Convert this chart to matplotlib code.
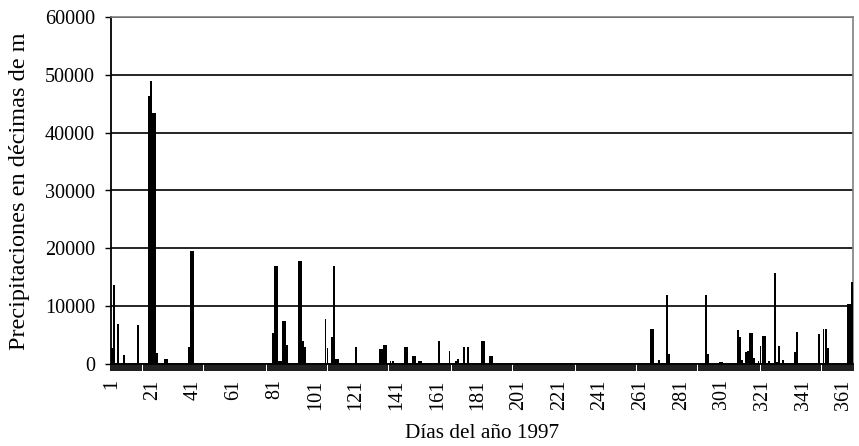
import numpy as np
import matplotlib
matplotlib.use("Agg")
import matplotlib.pyplot as plt
from matplotlib.ticker import FixedLocator

plt.rcParams['font.family'] = ['Liberation Serif', 'DejaVu Serif']

# Days with rain (day of year) and rain amount
rain_days = [1, 2, 4, 7, 14, 19, 20, 21, 22, 23, 27, 28, 39, 40, 41,
             80, 81, 82, 83, 84, 85, 86, 87, 93, 94, 95, 96,
             106, 107, 109, 110, 111, 112, 121, 133, 134, 135, 136, 138, 139,
             145, 146, 149, 150, 152, 153, 162, 167, 170, 171, 174, 176,
             183, 184, 187, 188,
             266, 267, 270, 274, 275, 293, 294, 300, 301,
             309, 310, 311, 313, 314, 315, 316, 317, 319, 320, 321, 322, 324,
             327, 328, 329, 331, 337, 338, 349, 351, 352, 353, 363, 364, 365]
rain_values = [2800, 13600, 7000, 1500, 6700, 46400, 48900, 43400, 43400, 1900, 900, 900, 2900, 19500, 19500,
               5300, 17000, 17000, 600, 600, 7400, 7400, 3200, 17800, 17800, 4000, 2900,
               7700, 2800, 4600, 17000, 900, 900, 2900, 2600, 2600, 3200, 3200, 600, 600,
               2900, 2900, 1300, 1300, 600, 600, 3900, 2300, 600, 900, 3000, 3000,
               3900, 3900, 1300, 1300,
               6100, 6100, 700, 12000, 1700, 12000, 1700, 400, 400,
               5900, 4600, 700, 2100, 2200, 5300, 5300, 1100, 450, 3100, 4800, 4800, 450,
               15800, 400, 3100, 700, 2100, 5500, 5200, 6100, 6100, 2800, 10300, 10300, 14100]

n_days = 365
x_tick_days = list(range(1, n_days + 1, 20))
y_ticks = [0, 10000, 20000, 30000, 40000, 50000, 60000]

days = np.arange(1, n_days + 1)
values = np.zeros(n_days)
for d, v in zip(rain_days, rain_values):
    values[d - 1] = v

W, H = 859, 446
fig = plt.figure(figsize=(W / 100, H / 100), dpi=100)
ax = fig.add_axes([111 / W, 1 - 364 / H, 742 / W, 347 / H])

ax.bar(days, values, width=0.95, color='black', linewidth=0, zorder=3)
ax.set_xlim(0.5, n_days + 0.5)
ax.set_ylim(0, 60000)

ax.set_yticks(y_ticks)
ax.set_yticklabels([str(v) for v in y_ticks], fontsize=14.5)
ax.yaxis.grid(True, color='black', linewidth=1.2, zorder=1)
ax.set_axisbelow(True)
ax.tick_params(axis='y', direction='out', length=4.5, width=1.0, pad=7, color='black')

ax.set_xticks(x_tick_days)
ax.set_xticklabels([str(d) for d in x_tick_days], rotation=90, fontsize=14.5, va='top')
ax.tick_params(axis='x', which='major', length=0, pad=11)
ax.xaxis.set_minor_locator(FixedLocator(np.arange(0.5, n_days + 1, 1.0)))
ax.tick_params(axis='x', which='minor', direction='out', length=5, width=1.25, color='black')

for s in ['left', 'bottom']:
    ax.spines[s].set_color('black')
    ax.spines[s].set_linewidth(1.3)
for s in ['top', 'right']:
    ax.spines[s].set_color('#808080')
    ax.spines[s].set_linewidth(1.2)

fig.text(482 / W, 1 - 434 / H, 'Días del año 1997', ha='center', va='center', fontsize=15.3)
fig.text(20 / W, 1 - 191 / H, 'Precipitaciones en décimas de m', ha='center', va='center',
         rotation=90, fontsize=17.5)

fig.savefig('out.png', dpi=100)
